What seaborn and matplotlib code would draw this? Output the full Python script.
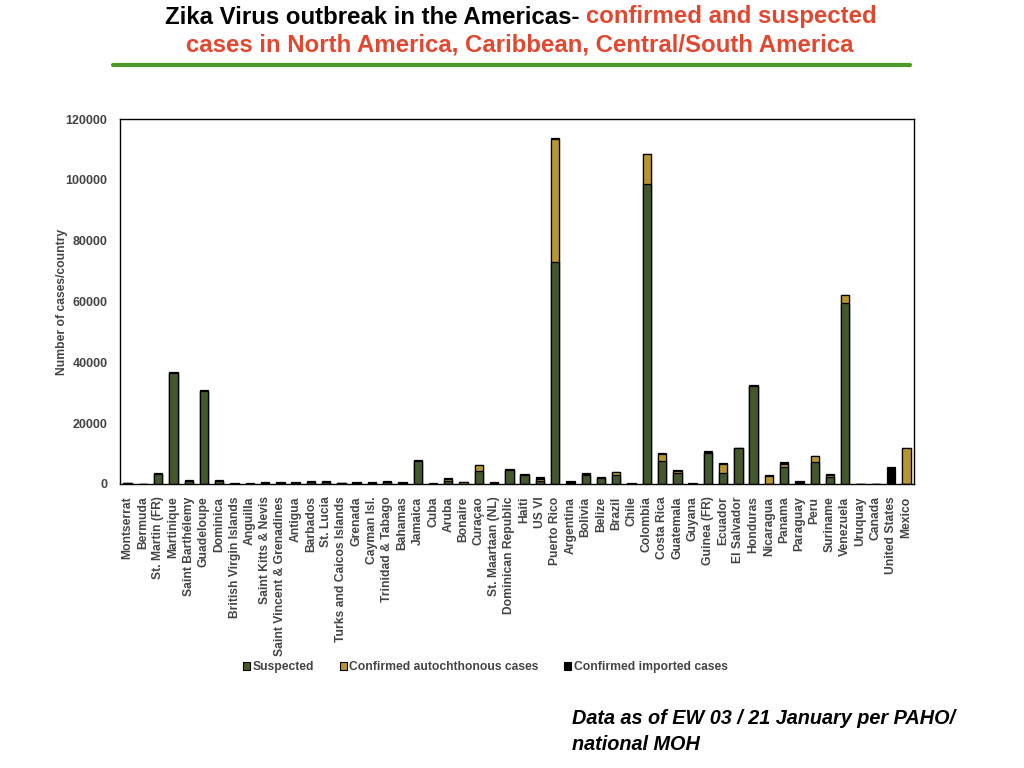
import matplotlib
matplotlib.use("Agg")
import matplotlib.pyplot as plt
import pandas as pd
import seaborn as sns
from matplotlib.patches import Patch

countries = [
    "Montserrat", "Bermuda", "St. Martin (FR)", "Martinique", "Saint Barthélemy",
    "Guadeloupe", "Dominica", "British Virgin Islands", "Anguilla",
    "Saint Kitts & Nevis", "Saint Vincent & Grenadines", "Antigua", "Barbados",
    "St. Lucia", "Turks and Caicos Islands", "Grenada", "Cayman Isl.",
    "Trinidad & Tabago", "Bahamas", "Jamaica", "Cuba", "Aruba", "Bonaire",
    "Curaçao", "St. Maartaan (NL)", "Dominican Republic", "Haiti", "US VI",
    "Puerto Rico", "Argentina", "Bolivia", "Belize", "Brazil", "Chile",
    "Colombia", "Costa Rica", "Guatemala", "Guyana", "Guinea (FR)", "Ecuador",
    "El Salvador", "Honduras", "Nicaragua", "Panama", "Paraguay", "Peru",
    "Suriname", "Venezuela", "Uruquay", "Canada", "United States", "Mexico",
]
suspected = [
    200, 0, 3450, 36500, 1100, 30500, 1100, 150, 150, 400, 450, 450, 650,
    700, 200, 450, 400, 550, 450, 7500, 100, 1100, 100, 4300, 400, 4500,
    3000, 1000, 72900, 0, 2900, 1900, 2850, 0, 98600, 7600, 3500, 100,
    10100, 3500, 11700, 32200, 0, 5500, 300, 7100, 2400, 59600, 0, 0, 0, 0,
]
confirmed_auto = [
    0, 0, 0, 0, 0, 0, 0, 0, 0, 0, 0, 0, 100, 0, 0, 0, 0, 200, 0, 0, 0, 500,
    500, 1900, 0, 0, 0, 800, 40400, 0, 500, 0, 1000, 0, 9800, 2300, 900, 0,
    0, 3100, 0, 0, 2700, 1200, 0, 2000, 700, 2500, 0, 0, 0, 11750,
]
confirmed_imported = [
    0, 150, 150, 300, 150, 300, 150, 50, 50, 100, 100, 100, 100, 150, 50,
    100, 100, 100, 100, 400, 100, 300, 0, 100, 150, 300, 250, 400, 400, 900,
    300, 300, 200, 200, 100, 200, 200, 150, 850, 200, 250, 300, 150, 400,
    600, 200, 200, 150, 150, 150, 5700, 200,
]

green = "#44592b"
tan = "#b8952f"
black = "#000000"
text_grey = "#444444"

df = pd.DataFrame({
    "country": countries,
    "suspected": suspected,
    "auto": confirmed_auto,
    "imported": confirmed_imported,
})
df["susp_auto"] = df["suspected"] + df["auto"]
df["total"] = df["susp_auto"] + df["imported"]

sns.set_style("white")
plt.rcParams["font.family"] = ["Liberation Sans", "DejaVu Sans"]

fig = plt.figure(figsize=(10.24, 7.68), dpi=100)
ax = fig.add_axes([120 / 1024, 1 - 484 / 768, 794 / 1024, 365 / 768])

# stacked bars drawn as overlapping cumulative layers
bar_kw = dict(edgecolor="black", linewidth=0.9, width=0.55, errorbar=None, ax=ax)
sns.barplot(data=df, x="country", y="total", color=black, saturation=1, **bar_kw)
sns.barplot(data=df, x="country", y="susp_auto", color=tan, saturation=1, **bar_kw)
sns.barplot(data=df, x="country", y="suspected", color=green, saturation=1, **bar_kw)

ax.set_xlim(-0.5, len(countries) - 0.5)
ax.set_ylim(0, 120000)
ax.set_yticks(range(0, 120001, 20000))
ax.set_xlabel("")
ax.set_ylabel("Number of cases/country", fontsize=8.7, fontweight="bold",
              color=text_grey)
ax.yaxis.set_label_coords(-0.065, 0.5)
ax.tick_params(axis="both", length=0, colors=text_grey)
for lab in ax.get_yticklabels():
    lab.set_fontsize(9)
    lab.set_fontweight("bold")
ax.set_xticks(range(len(countries)))
ax.set_xticklabels(countries, rotation=90, fontsize=8.7, fontweight="bold",
                   color=text_grey)
ax.tick_params(axis="y", pad=9)
ax.tick_params(axis="x", pad=9)
for sp in ax.spines.values():
    sp.set_color("black")
    sp.set_linewidth(1.0)

handles = [
    Patch(facecolor=green, edgecolor="black", linewidth=0.8, label="Suspected"),
    Patch(facecolor=tan, edgecolor="black", linewidth=0.8,
          label="Confirmed autochthonous cases"),
    Patch(facecolor=black, edgecolor="black", linewidth=0.8,
          label="Confirmed imported cases"),
]
leg = fig.legend(handles=handles, loc="center", bbox_to_anchor=(0.474, 1 - 667 / 768),
                 ncol=3, frameon=False, handlelength=0.6, handleheight=0.6,
                 handletextpad=0.2, columnspacing=2.1,
                 prop={"size": 8.7, "weight": "bold"})
for t in leg.get_texts():
    t.set_color(text_grey)

# title with two colours on the first line
title_font = dict(fontsize=17.3, fontweight="bold",
                  family=["Liberation Sans Narrow", "Liberation Sans", "DejaVu Sans"])
red = "#e2472f"
part1 = "Zika Virus outbreak in the Americas- "
part2 = "confirmed and suspected"
fig.canvas.draw()
renderer = fig.canvas.get_renderer()
t1 = fig.text(0, 1 - 17 / 768, part1, color="black", va="center", ha="left", **title_font)
t2 = fig.text(0, 1 - 17 / 768, part2, color=red, va="center", ha="left", **title_font)
w1 = t1.get_window_extent(renderer).width / fig.bbox.width
w2 = t2.get_window_extent(renderer).width / fig.bbox.width
x0 = 0.509 - (w1 + w2) / 2
t1.set_x(x0)
t2.set_x(x0 + w1)
fig.text(0.508, 1 - 45 / 768, "cases in North America, Caribbean, Central/South America",
         color=red, va="center", ha="center", **title_font)
fig.add_artist(plt.Line2D([113 / 1024, 910 / 1024], [1 - 65 / 768, 1 - 65 / 768],
                          color="#4c9a2a", linewidth=3, transform=fig.transFigure))

foot_font = dict(fontsize=14.3, fontweight="bold", style="italic", color="black")
fig.text(572 / 1024, 1 - 719 / 768, "Data as of EW 03 / 21 January per PAHO/",
         va="center", ha="left", **foot_font)
fig.text(572 / 1024, 1 - 744 / 768, "national MOH", va="center", ha="left", **foot_font)

fig.savefig("out.png", dpi=100)
plt.close(fig)
